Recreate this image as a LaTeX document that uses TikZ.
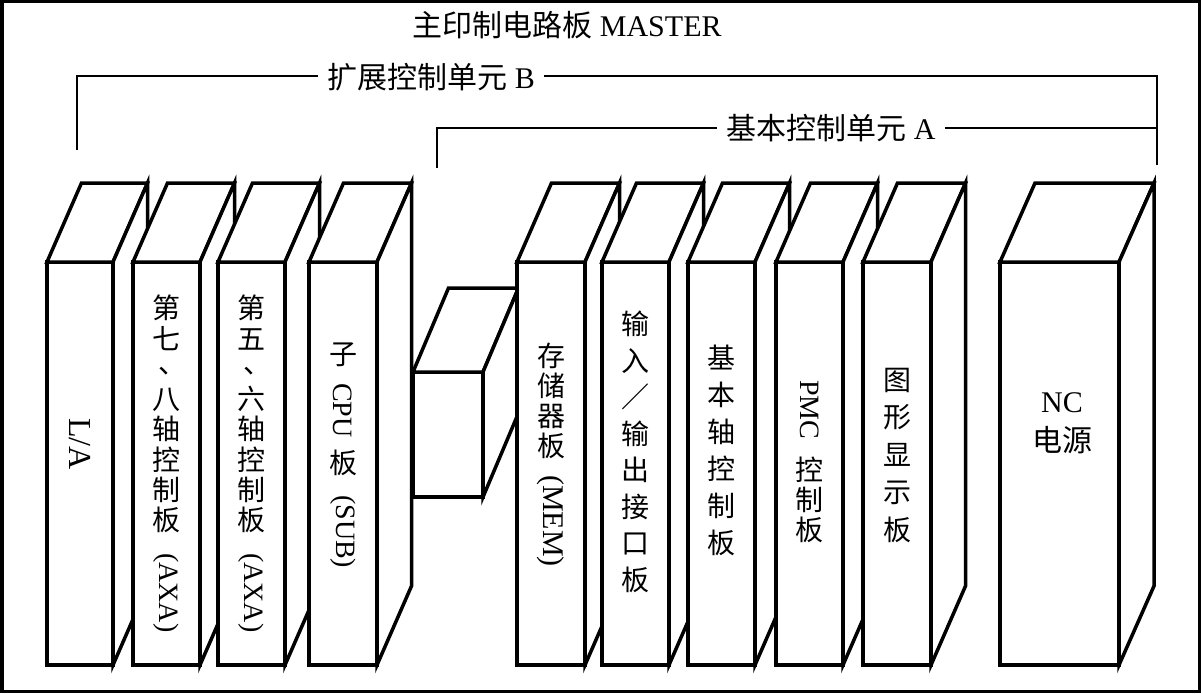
\documentclass[tikz,border=0pt]{standalone}
\usepackage{fontspec}
\setmainfont{Liberation Serif}
\newfontfamily\cjk{Noto Sans CJK SC}
\tikzset{
  bd/.style={draw=black, line width=3.5pt, fill=white, line join=miter},
  brk/.style={draw=black, line width=1.9pt},
  stk/.style={font=\cjk\fontsize{28}{#1}\selectfont, align=center, inner sep=0pt, anchor=north},
  rot/.style={font=\fontsize{28}{34}\selectfont, rotate=-90, anchor=west, inner sep=0pt},
  hd/.style={font=\fontsize{30}{36}\selectfont, inner sep=0pt},
}
\newcommand\dunhao{\raisebox{0.2em}[0.7em][0pt]{\makebox[1em][l]{\hspace{0.22em}、}}}
% x0, width, ytop, ybottom, dx, dy
\newcommand\myboard[6]{%
  \path[bd] (#1,#3) rectangle ({#1+#2},#4);
  \path[bd] (#1,#3) -- ({#1+#5},{#3-#6}) -- ({#1+#2+#5},{#3-#6}) -- ({#1+#2},#3) -- cycle;
  \path[bd] ({#1+#2},#3) -- ({#1+#2+#5},{#3-#6}) -- ({#1+#2+#5},{#4-#6}) -- ({#1+#2},#4) -- cycle;
}
\begin{document}
\begin{tikzpicture}[x=1pt,y=-1pt]
\useasboundingbox (0,0) rectangle (1201,693);
\fill[white] (0,0) rectangle (1201,693);
\draw[line width=3.5pt] (1.75,1.75) rectangle (1199.25,691.25);

% title and brackets
\node[hd] (title) at (567,25) {{\cjk 主印制电路板} MASTER};
\node[hd, inner xsep=9pt] (tB) at (431,77) {{\cjk 扩展控制单元} B};
\node[hd, inner xsep=9pt] (tA) at (831,128) {{\cjk 基本控制单元} A};
\coordinate (b1) at (77,150);
\coordinate (b2) at (77,76);
\coordinate (b3) at (1157,76);
\coordinate (b4) at (1157,165);
\coordinate (a1) at (437,168);
\coordinate (a2) at (437,128);
\coordinate (a3) at (1157,128);
\draw[brk] (b1) -- (b2) -- (b2 -| tB.west);
\draw[brk] (b3 -| tB.east) -- (b3) -- (b4);
\draw[brk] (a1) -- (a2) -- (a2 -| tA.west);
\draw[brk] (a3 -| tA.east) -- (a3);

% boards
\myboard{47}{66}{262}{665}{34.5}{79}
\myboard{133}{67}{262}{665}{34.5}{79}
\myboard{218}{67}{262}{665}{34.5}{79}
\myboard{309}{68}{262}{665}{34.5}{79}
\myboard{413}{70}{372}{497}{35.5}{84}
\myboard{517}{68}{262}{665}{34.5}{79}
\myboard{602}{67}{262}{665}{34.5}{79}
\myboard{688}{67}{262}{665}{34.5}{79}
\myboard{776}{67}{262}{665}{34.5}{79}
\myboard{863}{68}{262}{665}{34.5}{79}
\myboard{1000}{119}{262}{665}{35}{79}

% labels
\node[rot, font=\fontsize{32}{36}\selectfont, anchor=center] (tLA) at (80,444) {L/A};

\node[stk=30.25] (t2a) at (166.5,295) {第\\七\\\dunhao\\八\\轴\\控\\制\\板};
\node[rot] (t2b) at (166.5,553) {(AXA)};

\node[stk=30.25] (t3a) at (251.5,295) {第\\五\\\dunhao\\六\\轴\\控\\制\\板};
\node[rot] (t3b) at (251.5,553) {(AXA)};

\node[stk=30] (t4a) at (343,343) {子};
\node[rot] (t4b) at (343,383) {CPU};
\node[stk=30] (t4c) at (343,450) {板};
\node[rot] (t4d) at (343,495) {(SUB)};

\node[stk=30] (t5a) at (551,343) {存\\储\\器\\板};
\node[rot, font=\fontsize{30}{34}\selectfont] (t5b) at (551,475) {(MEM)};

\node[stk=36.5] (t6) at (635.5,311) {输\\入\\／\\输\\出\\接\\口\\板};

\node[stk=37] (t7) at (721.5,345) {基\\本\\轴\\控\\制\\板};

\node[rot] (t8a) at (809.5,380) {PMC};
\node[stk=30] (t8b) at (809.5,457) {控\\制\\板};

\node[stk=37.5] (t9) at (897,368) {图\\形\\显\\示\\板};

\node[font=\fontsize{30}{39}\selectfont, align=center, inner sep=0pt, anchor=north] (tNC) at (1062,392) {NC\\{\cjk 电源}};
\end{tikzpicture}
\end{document}
